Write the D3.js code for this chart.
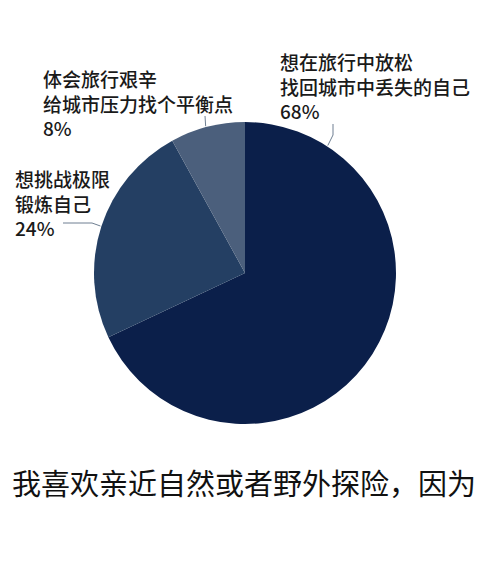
<!DOCTYPE html>
<html>
<head>
<meta charset="utf-8">
<script src="https://cdn.jsdelivr.net/npm/d3@7"></script>
<style>
  html, body { margin: 0; padding: 0; background: #fff; }
  svg { display: block; font-family: "Noto Sans CJK SC", "Noto Sans", sans-serif; }
</style>
</head>
<body>
<div id="chart"></div>
<script>
// Data
const categories = [
    ['想在旅行中放松', '找回城市中丢失的自己'],
    ['想挑战极限', '锻炼自己'],
    ['体会旅行艰辛', '给城市压力找个平衡点']
];
const values = [68, 24, 8];
const colors = ['#0b1f4a', '#243f63', '#4b5f7c'];
const title = '我喜欢亲近自然或者野外探险，因为';

// Label layout: where each leader line touches the pie (degrees clockwise from top)
// and where the text block sits
const labelLayout = [
    { touch: 33, text: [280, 70], line: [[333, 124], [333, 135]] },
    { touch: 288, text: [15, 187], line: [[63, 223], [92, 223]] },
    { touch: 345, text: [43, 87], line: [[205, 116]] }
];

const width = 488, height = 583;
const cx = 245, cy = 273, radius = 151;

const svg = d3.select('#chart')
    .append('svg')
    .attr('width', width)
    .attr('height', height);

const pie = d3.pie().sort(null).value(d => d);
const arc = d3.arc().innerRadius(0).outerRadius(radius);

const g = svg.append('g').attr('transform', `translate(${cx},${cy})`);

g.selectAll('path')
    .data(pie(values))
    .join('path')
    .attr('d', arc)
    .attr('fill', (d, i) => colors[i]);

// Leader lines
const toRad = a => a * Math.PI / 180;
svg.selectAll('polyline.leader')
    .data(labelLayout)
    .join('polyline')
    .attr('class', 'leader')
    .attr('fill', 'none')
    .attr('stroke', '#6f7f92')
    .attr('stroke-width', 1)
    .attr('points', d => {
        const a = toRad(d.touch);
        const end = [cx + (radius + 1) * Math.sin(a), cy - (radius + 1) * Math.cos(a)];
        return d.line.concat([end]).map(p => p.join(',')).join(' ');
    });

// Labels
const lineHeight = 24.5;
const labels = svg.selectAll('text.label')
    .data(labelLayout)
    .join('text')
    .attr('class', 'label')
    .attr('x', d => d.text[0])
    .attr('y', d => d.text[1])
    .style('font-size', '19px')
    .style('font-weight', '500')
    .style('fill', '#1a1a1a');

labels.each(function(d, i) {
    const lines = categories[i].concat([values[i] + '%']);
    d3.select(this).selectAll('tspan')
        .data(lines)
        .join('tspan')
        .attr('x', d.text[0])
        .attr('dy', (l, j) => j === 0 ? 0 : lineHeight)
        .text(l => l);
});

// Bottom title
svg.append('text')
    .attr('x', 12)
    .attr('y', 495)
    .style('font-size', '29px')
    .style('fill', '#111')
    .text(title);
</script>
</body>
</html>
